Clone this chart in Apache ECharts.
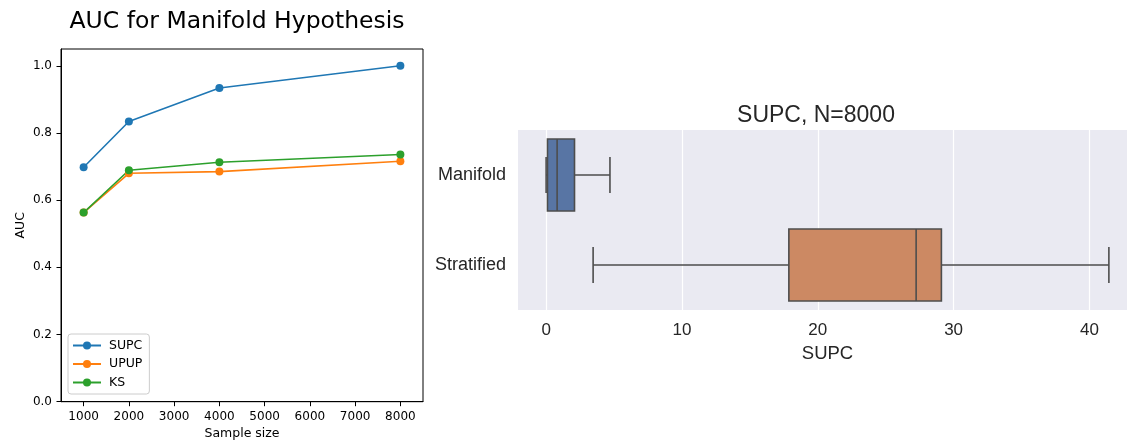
<!DOCTYPE html>
<html>
<head>
<meta charset="utf-8">
<script src="https://cdn.jsdelivr.net/npm/echarts@6/dist/echarts.min.js"></script>
<style>
html,body{margin:0;padding:0;background:#fff;}
#chart{width:1127px;height:442px;}
</style>
</head>
<body>
<div id="chart"></div>
<script>
// ---- Left panel data ----
const sampleSizes = [1000, 2000, 4000, 8000];
const supcAUC = [0.698, 0.834, 0.934, 1.0];
const upupAUC = [0.563, 0.680, 0.685, 0.716];
const ksAUC   = [0.563, 0.689, 0.713, 0.736];
const xTicksLeft = [1000, 2000, 3000, 4000, 5000, 6000, 7000, 8000];
const yTicksLeft = [0, 0.2, 0.4, 0.6, 0.8, 1.0];

// ---- Right panel data ----
const boxCategories = ['Manifold', 'Stratified'];
// [min, Q1, median, Q3, max]
const manifoldStats   = [0.0, 0.1, 0.81, 2.09, 4.7];
const stratifiedStats = [3.46, 17.87, 27.24, 29.1, 41.43];
const xTicksRight = [0, 10, 20, 30, 40];

const lineColors = ['#1f77b4', '#ff7f0e', '#2ca02c'];
const boxColors = ['#5875a4', '#cc8963'];

function pairs(xs, ys) { return xs.map((x, i) => [x, ys[i]]); }

const chart = echarts.init(document.getElementById('chart'), null, {renderer: 'canvas'});

const lineSeries = (name, vals, color) => ({
  name, type: 'line', xAxisIndex: 0, yAxisIndex: 0,
  data: pairs(sampleSizes, vals),
  symbol: 'circle', symbolSize: 8, showSymbol: true,
  itemStyle: {color},
  lineStyle: {color, width: 1.6},
  emphasis: {disabled: true},
  animation: false
});

const boxData = [
  [0].concat(manifoldStats),
  [1].concat(stratifiedStats)
];

const option = {
  animation: false,
  graphic: [
    {type: 'text', x: 237, y: 22, style: {text: 'AUC for Manifold Hypothesis', font: '23.5px "DejaVu Sans"', fill: '#000', align: 'center', verticalAlign: 'middle'}},
    {type: 'text', x: 816, y: 116, style: {text: 'SUPC, N=8000', font: '23px "Liberation Sans"', fill: '#262626', align: 'center', verticalAlign: 'middle'}}
  ],
  legend: {
    data: ['SUPC', 'UPUP', 'KS'],
    orient: 'vertical', left: 68, top: 334,
    backgroundColor: '#fff', borderColor: '#cccccc', borderWidth: 1, borderRadius: 3,
    padding: [5, 7, 5, 4], itemGap: 5.5, itemWidth: 28, itemHeight: 10,
    textStyle: {fontFamily: 'DejaVu Sans', fontSize: 12.5, color: '#000', padding: [0, 0, 0, 3]}
  },
  grid: [
    {left: 61, top: 49, width: 362, height: 352.7, show: true, borderColor: '#000', borderWidth: 1, backgroundColor: '#fff', containLabel: false, outerBoundsMode: 'none'},
    {left: 518, top: 130, width: 619, height: 180, show: true, borderWidth: 0, backgroundColor: '#EAEAF2', containLabel: false, outerBoundsMode: 'none'}
  ],
  xAxis: [
    {
      gridIndex: 0, type: 'value', min: 500, max: 8500,
      name: 'Sample size', nameLocation: 'middle', nameGap: 25,
      nameTextStyle: {fontFamily: 'DejaVu Sans', fontSize: 12.5, color: '#000'},
      axisLine: {show: true, lineStyle: {color: '#000', width: 1}},
      axisTick: {show: true, length: 4.5, lineStyle: {color: '#000'}, customValues: xTicksLeft},
      axisLabel: {customValues: xTicksLeft, formatter: v => String(v), fontFamily: 'DejaVu Sans', fontSize: 12, color: '#000', margin: 9},
      splitLine: {show: false}
    },
    {
      gridIndex: 1, type: 'value', min: -2.07, max: 43.5,
      name: 'SUPC', nameLocation: 'middle', nameGap: 34,
      nameTextStyle: {fontFamily: 'Liberation Sans', fontSize: 18.5, color: '#262626'},
      axisLine: {show: false},
      axisTick: {show: false, customValues: xTicksRight},
      axisLabel: {customValues: xTicksRight, fontFamily: 'Liberation Sans', fontSize: 17, color: '#262626', margin: 12},
      splitLine: {show: true, lineStyle: {color: '#ffffff', width: 1.2}}
    }
  ],
  yAxis: [
    {
      gridIndex: 0, type: 'value', min: 0, max: 1.05,
      name: 'AUC', nameLocation: 'middle', nameGap: 34, nameRotate: 90,
      nameTextStyle: {fontFamily: 'DejaVu Sans', fontSize: 12.5, color: '#000'},
      axisLine: {show: true, lineStyle: {color: '#000', width: 1}},
      axisTick: {show: true, length: 4.5, lineStyle: {color: '#000'}, customValues: yTicksLeft},
      axisLabel: {customValues: yTicksLeft, formatter: v => Number(v).toFixed(1), fontFamily: 'DejaVu Sans', fontSize: 12, color: '#000', margin: 9},
      splitLine: {show: false}
    },
    {
      gridIndex: 1, type: 'category', data: boxCategories, inverse: true,
      axisLine: {show: false}, axisTick: {show: false},
      axisLabel: {fontFamily: 'Liberation Sans', fontSize: 18, color: '#262626', margin: 12},
      splitLine: {show: false}
    }
  ],
  series: [
    lineSeries('SUPC', supcAUC, lineColors[0]),
    lineSeries('UPUP', upupAUC, lineColors[1]),
    lineSeries('KS', ksAUC, lineColors[2]),
    {
      type: 'custom', xAxisIndex: 1, yAxisIndex: 1,
      data: boxData,
      encode: {x: [1, 2, 3, 4, 5], y: 0},
      renderItem: function (params, api) {
        const cat = api.value(0);
        const pMin = api.coord([api.value(1), cat]);
        const pQ1 = api.coord([api.value(2), cat]);
        const pMed = api.coord([api.value(3), cat]);
        const pQ3 = api.coord([api.value(4), cat]);
        const pMax = api.coord([api.value(5), cat]);
        const band = api.size([0, 1])[1];
        const h = band * 0.8;
        const cap = h / 4;
        const y = pMed[1];
        const ls = {stroke: '#4d4d4d', lineWidth: 1.6};
        return {
          type: 'group',
          children: [
            {type: 'line', shape: {x1: pMin[0], y1: y, x2: pQ1[0], y2: y}, style: ls},
            {type: 'line', shape: {x1: pQ3[0], y1: y, x2: pMax[0], y2: y}, style: ls},
            {type: 'line', shape: {x1: pMin[0], y1: y - cap, x2: pMin[0], y2: y + cap}, style: ls},
            {type: 'line', shape: {x1: pMax[0], y1: y - cap, x2: pMax[0], y2: y + cap}, style: ls},
            {type: 'rect', shape: {x: pQ1[0], y: y - h / 2, width: pQ3[0] - pQ1[0], height: h},
             style: {fill: boxColors[params.dataIndex], stroke: '#4d4d4d', lineWidth: 1.6}},
            {type: 'line', shape: {x1: pMed[0], y1: y - h / 2, x2: pMed[0], y2: y + h / 2}, style: ls}
          ]
        };
      },
      animation: false
    }
  ]
};
chart.setOption(option);
</script>
</body>
</html>
